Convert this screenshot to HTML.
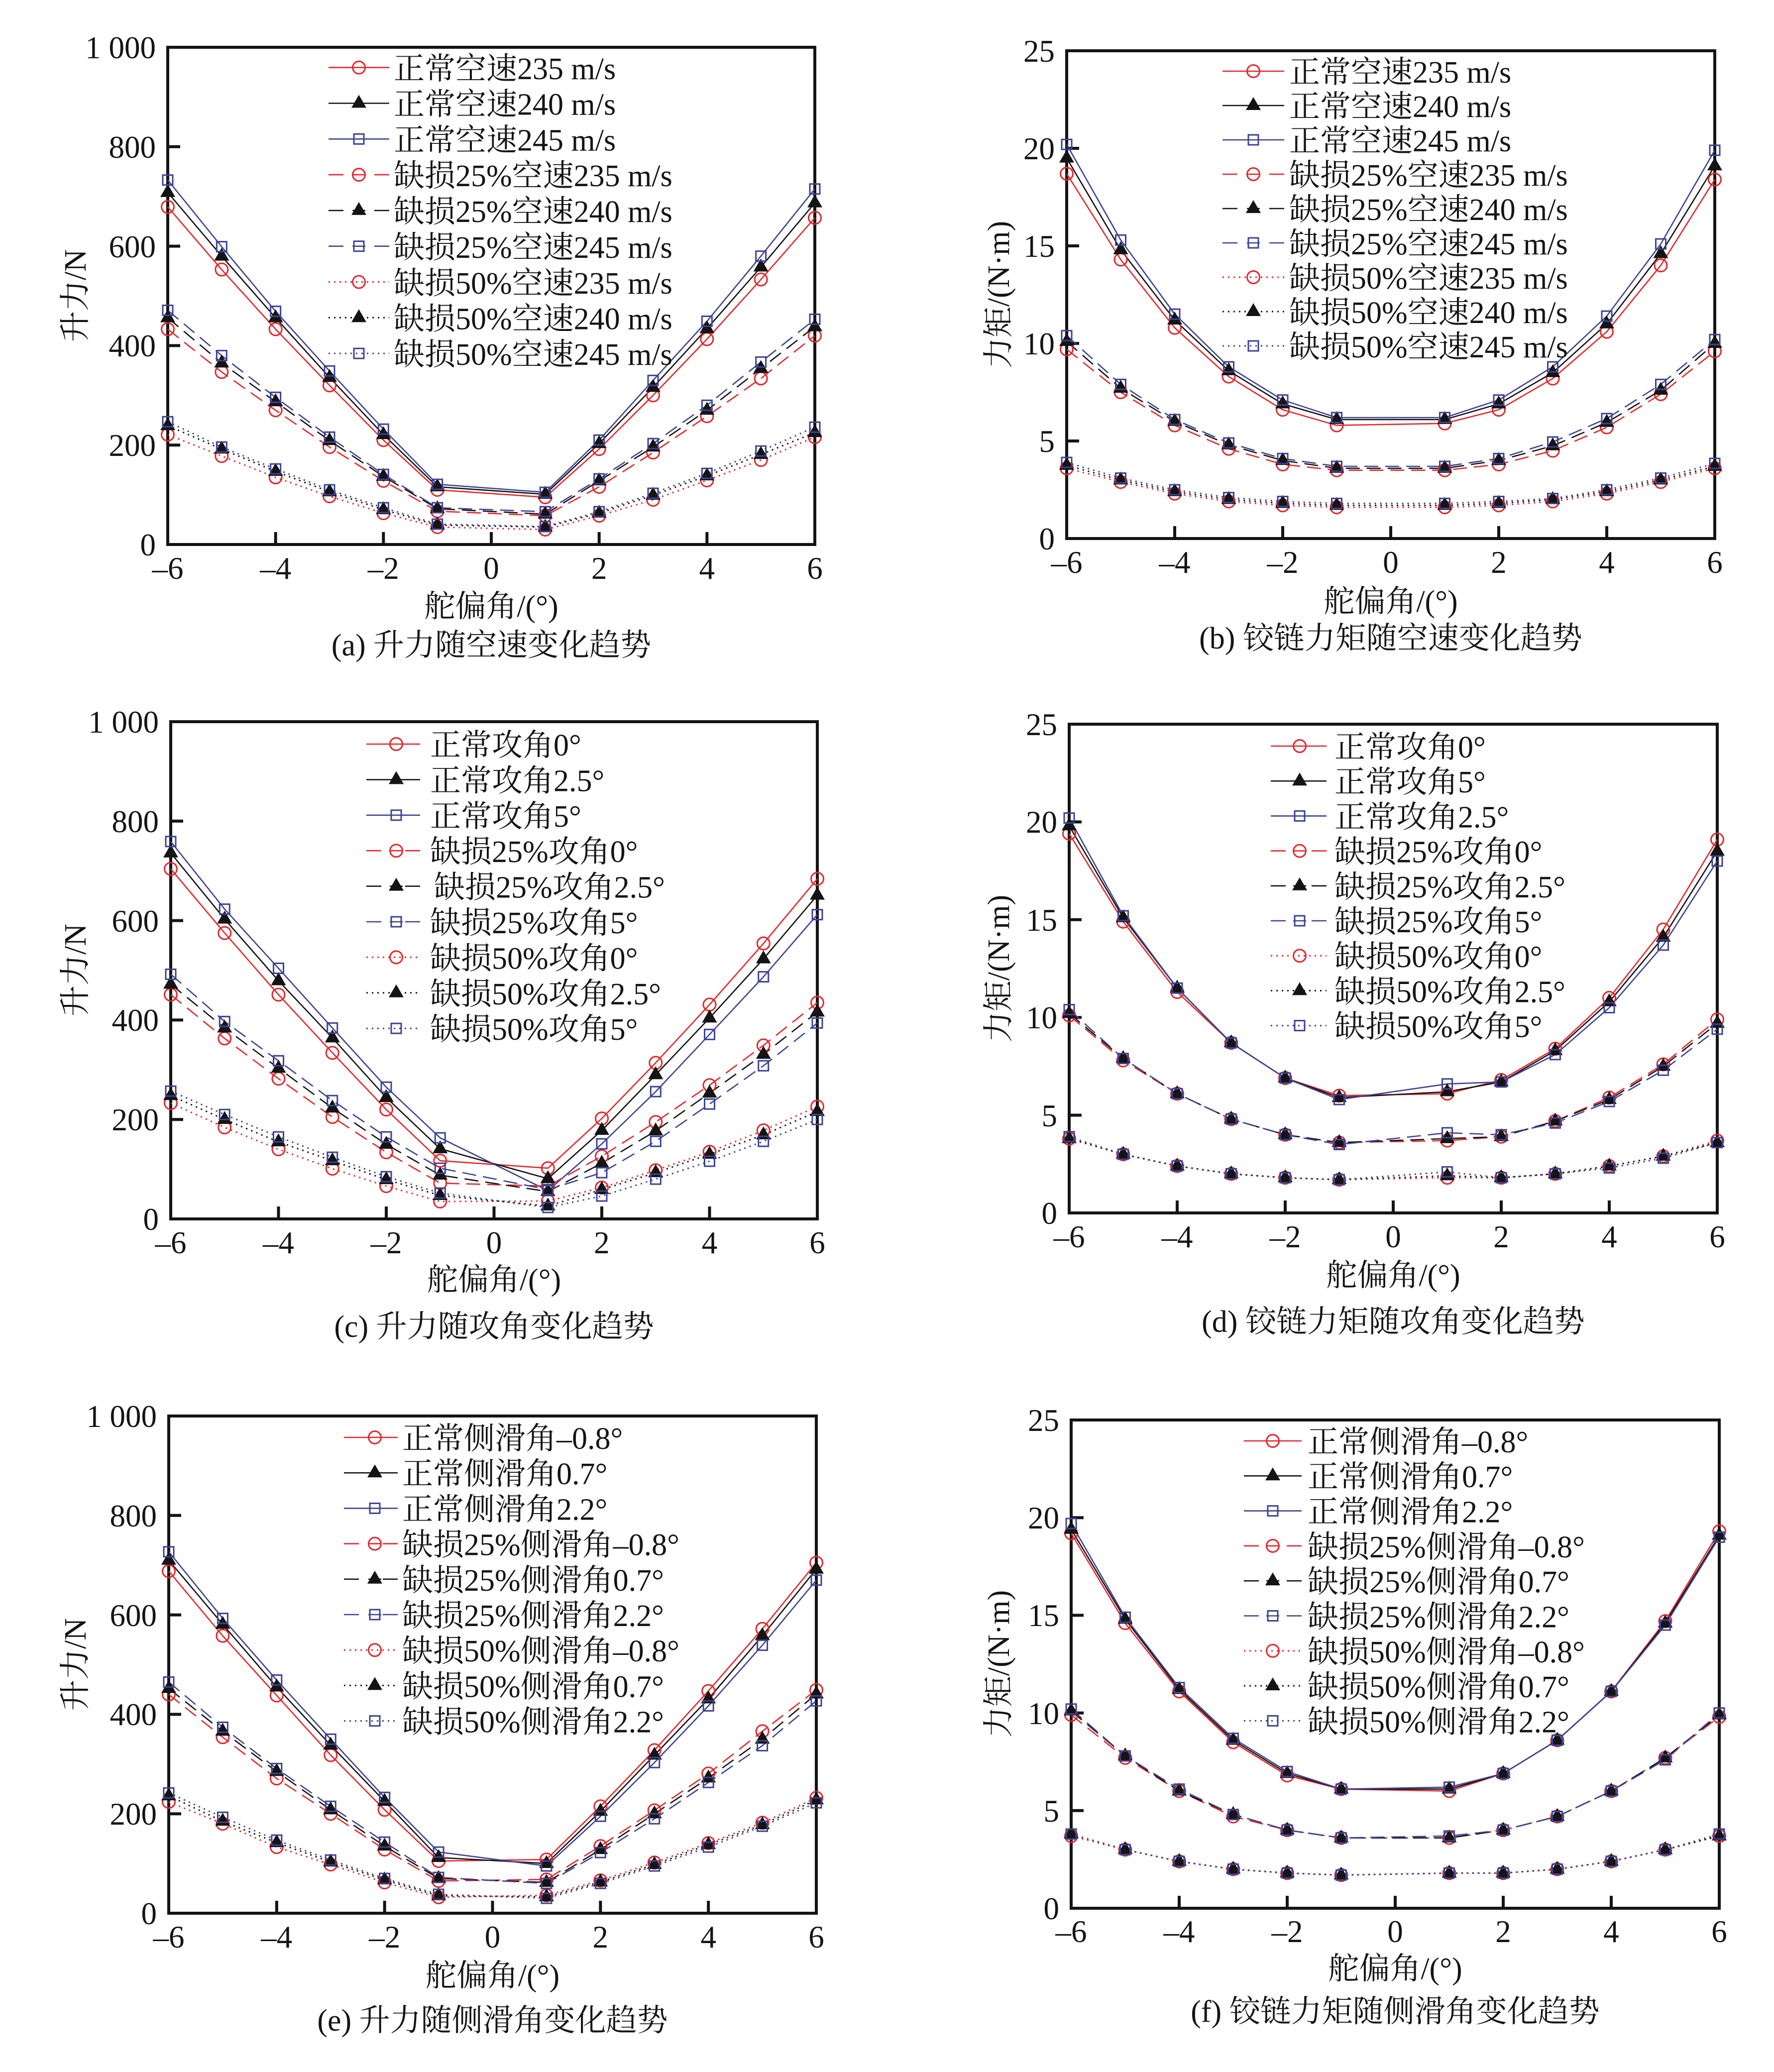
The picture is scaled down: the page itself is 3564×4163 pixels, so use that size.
<!DOCTYPE html>
<html><head><meta charset="utf-8">
<style>
html,body{margin:0;padding:0;background:#fff;}
svg{display:block;}
text{font-family:"Liberation Serif","Noto Serif CJK SC","Noto Sans CJK SC",serif;fill:#141414;}
.tk{font-size:63px;}
.lg{font-size:62px;}
.lb{font-size:62px;text-anchor:middle;}
.ye{text-anchor:end;}
.xm{text-anchor:middle;}
</style></head><body>
<svg id="s" xmlns="http://www.w3.org/2000/svg" width="3564" height="4163" viewBox="0 0 3564 4163">
<rect width="3564" height="4163" fill="#fff"/>
<g id="data"></g>

<!-- Panel a -->
<g class="tk ye">
<text x="313" y="1116">0</text><text x="313" y="916">200</text><text x="313" y="716">400</text><text x="313" y="517">600</text><text x="313" y="317">800</text><text x="313" y="117">1 000</text>
</g>
<g class="tk xm">
<text x="337" y="1163">–6</text><text x="553.7" y="1163">–4</text><text x="770.3" y="1163">–2</text><text x="987" y="1163">0</text><text x="1203.7" y="1163">2</text><text x="1420.3" y="1163">4</text><text x="1637" y="1163">6</text>
</g>
<text class="lb" x="987" y="1239">舵偏角/(°)</text>
<text class="lb" x="987" y="1317">(a) 升力随空速变化趋势</text>
<text class="lb" transform="translate(150,594) rotate(-90)" x="0" y="22">升力/N</text>
<g class="lg">
<text x="791" y="159">正常空速235 m/s</text>
<text x="791" y="230.5">正常空速240 m/s</text>
<text x="791" y="302.3">正常空速245 m/s</text>
<text x="791" y="374">缺损25%空速235 m/s</text>
<text x="791" y="446">缺损25%空速240 m/s</text>
<text x="791" y="518">缺损25%空速245 m/s</text>
<text x="791" y="590">缺损50%空速235 m/s</text>
<text x="791" y="661.5">缺损50%空速240 m/s</text>
<text x="791" y="733">缺损50%空速245 m/s</text>
</g>

<!-- Panel b -->
<g class="tk ye">
<text x="2119" y="1104">0</text><text x="2119" y="908">5</text><text x="2119" y="712">10</text><text x="2119" y="516">15</text><text x="2119" y="320">20</text><text x="2119" y="124">25</text>
</g>
<g class="tk xm">
<text x="2143" y="1151">–6</text><text x="2360" y="1151">–4</text><text x="2577" y="1151">–2</text><text x="2794" y="1151">0</text><text x="3011" y="1151">2</text><text x="3228" y="1151">4</text><text x="3445" y="1151">6</text>
</g>
<text class="lb" x="2794" y="1229">舵偏角/(°)</text>
<text class="lb" x="2794" y="1303">(b) 铰链力矩随空速变化趋势</text>
<text class="lb" transform="translate(2005,592) rotate(-90)" x="0" y="22">力矩/(N·m)</text>
<g class="lg">
<text x="2590" y="166">正常空速235 m/s</text>
<text x="2590" y="235">正常空速240 m/s</text>
<text x="2590" y="304">正常空速245 m/s</text>
<text x="2590" y="373">缺损25%空速235 m/s</text>
<text x="2590" y="442">缺损25%空速240 m/s</text>
<text x="2590" y="511">缺损25%空速245 m/s</text>
<text x="2590" y="580">缺损50%空速235 m/s</text>
<text x="2590" y="649">缺损50%空速240 m/s</text>
<text x="2590" y="718">缺损50%空速245 m/s</text>
</g>

<!-- Panel c -->
<g class="tk ye">
<text x="319" y="2471">0</text><text x="319" y="2271">200</text><text x="319" y="2071">400</text><text x="319" y="1872">600</text><text x="319" y="1672">800</text><text x="319" y="1472">1 000</text>
</g>
<g class="tk xm">
<text x="343" y="2518">–6</text><text x="559.5" y="2518">–4</text><text x="776" y="2518">–2</text><text x="992.5" y="2518">0</text><text x="1209" y="2518">2</text><text x="1425.5" y="2518">4</text><text x="1642" y="2518">6</text>
</g>
<text class="lb" x="992.5" y="2592">舵偏角/(°)</text>
<text class="lb" x="992.5" y="2686">(c) 升力随攻角变化趋势</text>
<text class="lb" transform="translate(150,1949) rotate(-90)" x="0" y="22">升力/N</text>
<g class="lg">
<text x="864" y="1518">正常攻角0°</text>
<text x="864" y="1589.4">正常攻角2.5°</text>
<text x="864" y="1660.8">正常攻角5°</text>
<text x="864" y="1732">缺损25%攻角0°</text>
<text x="872" y="1803.6">缺损25%攻角2.5°</text>
<text x="864" y="1875">缺损25%攻角5°</text>
<text x="864" y="1946.4">缺损50%攻角0°</text>
<text x="864" y="2017.8">缺损50%攻角2.5°</text>
<text x="864" y="2089">缺损50%攻角5°</text>
</g>

<!-- Panel d -->
<g class="tk ye">
<text x="2124" y="2459">0</text><text x="2124" y="2263">5</text><text x="2124" y="2066">10</text><text x="2124" y="1870">15</text><text x="2124" y="1673">20</text><text x="2124" y="1477">25</text>
</g>
<g class="tk xm">
<text x="2148" y="2506">–6</text><text x="2365" y="2506">–4</text><text x="2582" y="2506">–2</text><text x="2799" y="2506">0</text><text x="3016" y="2506">2</text><text x="3233" y="2506">4</text><text x="3450" y="2506">6</text>
</g>
<text class="lb" x="2799" y="2583">舵偏角/(°)</text>
<text class="lb" x="2799" y="2676">(d) 铰链力矩随攻角变化趋势</text>
<text class="lb" transform="translate(2005,1946) rotate(-90)" x="0" y="22">力矩/(N·m)</text>
<g class="lg">
<text x="2681" y="1522">正常攻角0°</text>
<text x="2681" y="1592">正常攻角5°</text>
<text x="2681" y="1662.4">正常攻角2.5°</text>
<text x="2681" y="1732.6">缺损25%攻角0°</text>
<text x="2681" y="1803">缺损25%攻角2.5°</text>
<text x="2681" y="1873">缺损25%攻角5°</text>
<text x="2681" y="1943">缺损50%攻角0°</text>
<text x="2681" y="2013.4">缺损50%攻角2.5°</text>
<text x="2681" y="2083.6">缺损50%攻角5°</text>
</g>

<!-- Panel e -->
<g class="tk ye">
<text x="315" y="3866">0</text><text x="315" y="3666">200</text><text x="315" y="3466">400</text><text x="315" y="3267">600</text><text x="315" y="3067">800</text><text x="315" y="2867">1 000</text>
</g>
<g class="tk xm">
<text x="339" y="3913">–6</text><text x="555.8" y="3913">–4</text><text x="772.7" y="3913">–2</text><text x="989.5" y="3913">0</text><text x="1206.3" y="3913">2</text><text x="1423.2" y="3913">4</text><text x="1640" y="3913">6</text>
</g>
<text class="lb" x="989.5" y="3990">舵偏角/(°)</text>
<text class="lb" x="989.5" y="4080">(e) 升力随侧滑角变化趋势</text>
<text class="lb" transform="translate(150,3344) rotate(-90)" x="0" y="22">升力/N</text>
<g class="lg">
<text x="808" y="2911">正常侧滑角–0.8°</text>
<text x="808" y="2982">正常侧滑角0.7°</text>
<text x="808" y="3053.4">正常侧滑角2.2°</text>
<text x="808" y="3124.6">缺损25%侧滑角–0.8°</text>
<text x="808" y="3196">缺损25%侧滑角0.7°</text>
<text x="808" y="3267">缺损25%侧滑角2.2°</text>
<text x="808" y="3338">缺损50%侧滑角–0.8°</text>
<text x="808" y="3409.4">缺损50%侧滑角0.7°</text>
<text x="808" y="3480.6">缺损50%侧滑角2.2°</text>
</g>

<!-- Panel f -->
<g class="tk ye">
<text x="2128" y="3856">0</text><text x="2128" y="3660">5</text><text x="2128" y="3464">10</text><text x="2128" y="3267">15</text><text x="2128" y="3071">20</text><text x="2128" y="2875">25</text>
</g>
<g class="tk xm">
<text x="2152" y="3902">–6</text><text x="2369" y="3902">–4</text><text x="2586" y="3902">–2</text><text x="2803" y="3902">0</text><text x="3020" y="3902">2</text><text x="3237" y="3902">4</text><text x="3454" y="3902">6</text>
</g>
<text class="lb" x="2803" y="3976">舵偏角/(°)</text>
<text class="lb" x="2803" y="4062">(f) 铰链力矩随侧滑角变化趋势</text>
<text class="lb" transform="translate(2005,3343) rotate(-90)" x="0" y="22">力矩/(N·m)</text>
<g class="lg">
<text x="2627" y="2918">正常侧滑角–0.8°</text>
<text x="2627" y="2988">正常侧滑角0.7°</text>
<text x="2627" y="3058.6">正常侧滑角2.2°</text>
<text x="2627" y="3129">缺损25%侧滑角–0.8°</text>
<text x="2627" y="3199">缺损25%侧滑角0.7°</text>
<text x="2627" y="3269.5">缺损25%侧滑角2.2°</text>
<text x="2627" y="3340">缺损50%侧滑角–0.8°</text>
<text x="2627" y="3410">缺损50%侧滑角0.7°</text>
<text x="2627" y="3480.4">缺损50%侧滑角2.2°</text>
</g>
</svg>
<script>
(function(){
var NS="http://www.w3.org/2000/svg";
var g=document.getElementById('data');
function el(tag,a){var e=document.createElementNS(NS,tag);for(var k in a)e.setAttribute(k,a[k]);g.appendChild(e);return e;}
var COL=['#e4262b','#141414','#3d4393'];
var DASH=['none','28 14','3 8'];
var XS=[-6,-5,-4,-3,-2,-1,1,2,3,4,5,6];
function marker(t,x,y){
  if(t==0) el('circle',{cx:x,cy:y,r:12.5,fill:'none',stroke:COL[0],'stroke-width':3});
  else if(t==1) el('path',{d:'M'+x+' '+(y-17)+'L'+(x+15)+' '+(y+9)+'L'+(x-15)+' '+(y+9)+'Z',fill:COL[1]});
  else el('rect',{x:x-10,y:y-10,width:20,height:20,fill:'none',stroke:COL[2],'stroke-width':3});
}
var P=[
{L:337,R:1637,T:95,B:1094,ym:1000,lg:{s:660,m:721,e:782,y0:135.7,dy:71.8},d:[
[679,553,433,320,210,110,95,192,300,413,533,657],
[708,580,456,336,221,116,101,203,316,434,558,687],
[733,599,469,349,232,121,105,210,330,449,580,715],
[433,347,270,196,128,67,58,116,185,258,334,420],
[456,365,287,209,137,72,61,128,196,270,354,438],
[471,380,296,216,141,74,66,132,203,280,367,453],
[221,178,135,97,63,35,30,58,90,129,170,216],
[239,192,147,106,70,39,35,63,99,138,181,225],
[247,196,152,110,74,41,36,66,103,143,188,236]]},
{L:2143,R:3445,T:102,B:1082,ym:25,lg:{s:2456,m:2518,e:2580,y0:143,dy:69},d:[
[18.7,14.3,10.8,8.3,6.6,5.8,5.9,6.6,8.2,10.6,14.0,18.4],
[19.5,14.8,11.2,8.6,6.9,6.1,6.1,6.9,8.5,11.0,14.6,19.1],
[20.2,15.3,11.5,8.8,7.1,6.2,6.2,7.1,8.8,11.4,15.1,19.9],
[9.7,7.5,5.8,4.6,3.8,3.5,3.5,3.8,4.5,5.7,7.4,9.6],
[10.1,7.7,6.0,4.8,4.0,3.6,3.6,4.0,4.75,5.95,7.6,10.0],
[10.4,7.9,6.1,4.9,4.1,3.7,3.7,4.1,4.95,6.15,7.9,10.2],
[3.6,2.9,2.3,1.9,1.7,1.6,1.6,1.7,1.9,2.3,2.9,3.6],
[3.75,3.0,2.4,2.0,1.8,1.7,1.7,1.8,2.0,2.4,3.0,3.7],
[3.9,3.1,2.5,2.1,1.9,1.8,1.8,1.9,2.05,2.5,3.1,3.85]]},
{L:343,R:1642,T:1450,B:2449,ym:1000,lg:{s:736,m:796,e:844,y0:1495,dy:71.4},d:[
[704,575,451,334,220,117,102,202,314,431,554,684],
[736,603,479,364,244,141,81,178,290,404,523,651],
[759,623,504,384,265,163,57,151,256,371,487,612],
[451,363,282,205,134,72,66,126,195,269,349,435],
[472,384,303,223,150,88,55,112,177,253,331,416],
[492,397,318,238,165,102,59,93,156,231,308,394],
[233,184,140,101,66,35,36,63,98,135,178,226],
[248,200,155,117,79,47,26,59,93,130,169,216],
[257,210,165,124,85,52,23,46,80,116,156,200]]},
{L:2148,R:3450,T:1455,B:2437,ym:25,lg:{s:2553,m:2611,e:2665,y0:1499,dy:70.2},d:[
[19.4,14.9,11.3,8.7,6.9,6.0,6.1,6.8,8.4,11.0,14.5,19.1],
[19.8,15.1,11.5,8.7,6.9,5.9,6.2,6.7,8.3,10.8,14.1,18.5],
[20.2,15.2,11.5,8.7,6.9,5.8,6.6,6.7,8.1,10.5,13.7,18.0],
[10.1,7.8,6.1,4.8,4.0,3.6,3.7,3.9,4.7,5.9,7.6,9.9],
[10.2,7.9,6.1,4.8,4.0,3.6,3.8,3.9,4.7,5.8,7.5,9.7],
[10.4,7.9,6.1,4.8,4.0,3.5,4.1,4.0,4.6,5.7,7.3,9.4],
[3.8,3.0,2.4,2.0,1.8,1.7,1.8,1.8,2.0,2.4,2.9,3.7],
[3.8,3.0,2.4,2.0,1.8,1.7,1.9,1.8,2.0,2.4,2.9,3.6],
[3.9,3.0,2.4,2.0,1.8,1.7,2.1,1.8,2.0,2.3,2.8,3.6]]},
{L:339,R:1640,T:2845,B:3844,ym:1000,lg:{s:691,m:753,e:799,y0:2888,dy:71.2},d:[
[688,558,438,318,208,105,108,215,328,447,572,705],
[710,581,455,338,225,112,100,205,318,431,558,692],
[727,593,469,350,233,123,95,195,303,417,539,670],
[440,354,271,200,128,65,68,135,207,281,366,449],
[452,366,285,208,135,70,62,128,200,272,350,441],
[465,374,291,215,143,72,60,122,190,263,337,427],
[224,180,133,98,62,32,36,66,102,141,182,232],
[236,185,142,103,67,35,33,63,98,138,178,228],
[242,193,147,107,70,38,30,60,95,133,175,222]]},
{L:2152,R:3454,T:2853,B:3834,ym:25,lg:{s:2499,m:2557,e:2615,y0:2895,dy:70.3},d:[
[19.2,14.6,11.1,8.5,6.8,6.1,6.0,6.9,8.6,11.1,14.7,19.3],
[19.4,14.8,11.2,8.6,6.9,6.1,6.1,6.9,8.6,11.1,14.6,19.1],
[19.7,14.9,11.3,8.7,7.0,6.1,6.2,6.9,8.6,11.1,14.5,19.0],
[9.9,7.7,6.0,4.7,4.0,3.6,3.6,4.0,4.7,6.0,7.7,9.8],
[10.1,7.8,6.0,4.8,4.0,3.6,3.6,4.0,4.7,6.0,7.7,9.9],
[10.2,7.8,6.1,4.8,4.0,3.6,3.7,4.0,4.7,6.0,7.6,10.0],
[3.7,3.0,2.4,2.0,1.8,1.7,1.8,1.8,2.0,2.4,3.0,3.7],
[3.8,3.0,2.4,2.0,1.8,1.7,1.8,1.8,2.0,2.4,3.0,3.7],
[3.8,3.0,2.4,2.0,1.8,1.7,1.8,1.8,2.0,2.4,3.0,3.8]]}
];
var ORDER=[0,1,2];
P.forEach(function(p){
  var L=p.L,R=p.R,T=p.T,B=p.B;
  el('rect',{x:L,y:T,width:R-L,height:B-T,fill:'none',stroke:'#141414','stroke-width':6});
  for(var k=-6;k<=6;k+=2){var x=L+(k+6)*(R-L)/12;el('line',{x1:x,y1:B,x2:x,y2:B-25,stroke:'#141414','stroke-width':6});}
  for(var i=1;i<5;i++){var y=B-i*(B-T)/5;el('line',{x1:L,y1:y,x2:L+25,y2:y,stroke:'#141414','stroke-width':6});}
  function X(v){return L+(v+6)*(R-L)/12;}
  function Y(v){return B-v*(B-T)/p.ym;}
  // lines
  for(var s=0;s<9;s++){
    var c=s%3, st=Math.floor(s/3), pts=[];
    for(var j=0;j<12;j++) pts.push(X(XS[j]).toFixed(1)+','+Y(p.d[s][j]).toFixed(1));
    var a={points:pts.join(' '),fill:'none',stroke:COL[c],'stroke-width':st==2?3:2.6,'stroke-linejoin':'round'};
    if(st>0) a['stroke-dasharray']=DASH[st];
    el('polyline',a);
  }
  // markers: circles, triangles, squares
  [0,1,2].forEach(function(c){
    for(var st=0;st<3;st++){var s=st*3+c;
      for(var j=0;j<12;j++) marker(c,X(XS[j]),Y(p.d[s][j]));}
  });
  // legend
  var lg=p.lg;
  for(var s=0;s<9;s++){
    var c=s%3, st=Math.floor(s/3), y=lg.y0+s*lg.dy;
    if(st==0){el('line',{x1:lg.s,y1:y,x2:lg.e,y2:y,stroke:COL[c],'stroke-width':2.6});}
    else if(st==1){
      el('line',{x1:lg.s,y1:y,x2:lg.s+30,y2:y,stroke:COL[c],'stroke-width':2.6});
      el('line',{x1:lg.m-13,y1:y,x2:lg.m+13,y2:y,stroke:COL[c],'stroke-width':2.6});
      el('line',{x1:lg.e-30,y1:y,x2:lg.e,y2:y,stroke:COL[c],'stroke-width':2.6});
    } else {
      el('line',{x1:lg.s,y1:y,x2:lg.e,y2:y,stroke:COL[c],'stroke-width':3,'stroke-dasharray':'3 8'});
    }
    marker(c,lg.m,y);
  }
});
})();
</script>
</body></html>
